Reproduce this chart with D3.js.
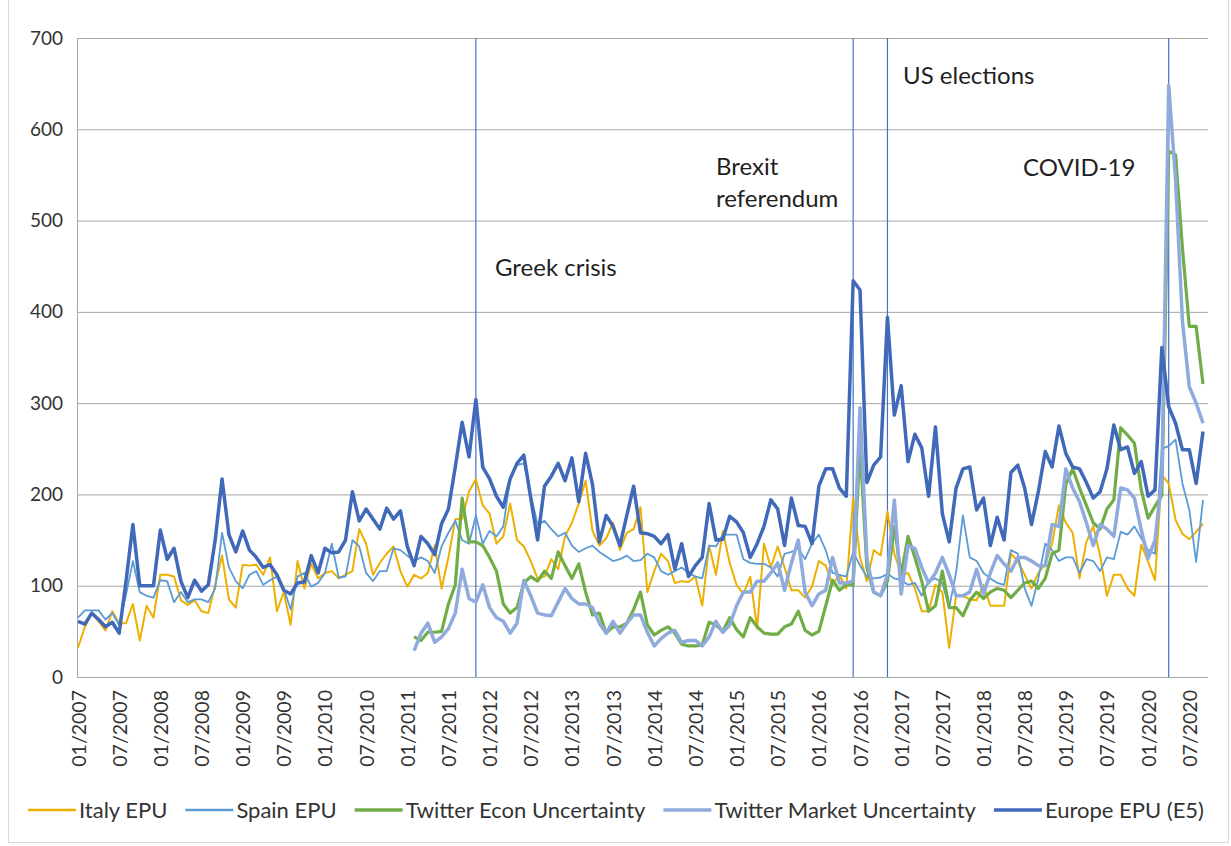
<!DOCTYPE html>
<html>
<head>
<meta charset="utf-8">
<script src="https://cdn.jsdelivr.net/npm/d3@7"></script>
<style>
body{margin:0;background:#fff;}
svg{font-family:Lato,"Open Sans",sans-serif;}
</style>
</head>
<body>
<svg id="chart" width="1231" height="846"></svg>
<script>
// monthly categories 01/2007 .. 09/2020
const months=[];
for(let yr=2007;yr<=2020;yr++){
  for(let m=1;m<=12;m++){
    if(yr==2020 && m>9) break;
    months.push((m<10?'0':'')+m+'/'+yr);
  }
}
const tickMonths=months.filter(m=>m.startsWith('01/')||m.startsWith('07/'));
const yTicks=[0,100,200,300,400,500,600,700];

const italy=[32,55,70,61,51,72,59,59,80,40,78,65,
 112,112,110,84,79,84,72,70,101,133,85,76,
 123,122,123,112,131,72,93,57,127,97,124,108,
 114,116,108,112,116,162,146,112,125,135,143,116,
 99,112,108,114,144,97,131,173,173,203,217,188,
 179,146,154,190,150,143,127,108,110,129,118,154,
 169,190,215,160,144,152,169,139,158,162,186,93,
 116,135,127,103,105,104,110,78,144,112,160,125,
 101,91,110,53,146,120,143,120,95,95,87,99,
 127,122,101,112,97,196,131,105,139,133,181,135,
 112,114,97,72,72,101,93,32,89,89,85,84,
 101,78,78,78,135,127,112,97,114,124,146,188,
 169,158,108,148,165,133,89,112,112,97,89,145,
 126,106,221,212,172,157,151,159,168];

const spain=[65,73,73,73,63,70,57,90,127,93,89,87,
 106,105,82,93,82,85,85,82,97,158,120,105,
 97,112,116,101,106,110,97,74,110,114,99,103,
 114,146,109,110,150,143,114,105,116,116,141,139,
 133,127,131,127,114,143,158,171,150,146,177,146,
 160,154,165,217,232,234,200,167,171,162,154,158,
 144,137,141,144,137,132,127,129,133,127,128,135,
 131,116,112,116,120,114,110,108,144,143,156,156,
 156,129,125,124,124,120,110,135,137,141,129,146,
 156,139,114,112,110,137,122,110,108,109,113,108,
 106,101,103,89,105,108,103,76,114,177,131,127,
 114,108,103,101,139,135,97,78,108,146,139,127,
 131,131,114,129,127,116,131,129,159,156,165,152,
 139,135,250,253,260,212,183,126,194];

// twitter indices start 02/2011
const twitterEcon=[null,null,null,null,null,null,null,null,null,null,null,null,
 null,null,null,null,null,null,null,null,null,null,null,null,
 null,null,null,null,null,null,null,null,null,null,null,null,
 null,null,null,null,null,null,null,null,null,null,null,null,
 null,44,40,49,49,50,80,101,196,148,148,144,
 131,116,80,70,76,103,110,105,116,108,137,122,
 108,124,93,68,70,48,55,55,59,74,93,57,
 46,51,55,48,36,34,34,35,60,57,50,65,
 52,44,65,55,48,47,47,55,58,72,51,46,
 50,78,106,95,101,101,253,120,93,89,105,165,
 112,154,131,105,72,78,116,76,76,67,84,93,
 86,93,97,95,87,95,103,105,97,108,135,139,
 211,228,207,188,169,162,184,194,273,265,256,205,
 174,187,199,576,572,470,384,384,321];

const twitterMarket=[null,null,null,null,null,null,null,null,null,null,null,null,
 null,null,null,null,null,null,null,null,null,null,null,null,
 null,null,null,null,null,null,null,null,null,null,null,null,
 null,null,null,null,null,null,null,null,null,null,null,null,
 null,29,48,59,38,44,53,70,118,86,82,101,
 76,65,61,48,59,106,89,70,68,67,82,97,
 86,80,80,76,59,48,61,48,59,68,68,49,
 34,42,48,51,38,40,40,34,44,61,49,57,
 78,93,93,105,105,114,125,95,125,150,93,78,
 91,95,131,103,103,105,295,130,93,89,112,194,
 91,144,141,120,103,114,131,112,89,89,93,118,
 91,114,133,124,116,131,131,127,122,122,167,165,
 228,207,192,169,144,167,162,154,207,205,196,161,
 130,150,216,648,545,390,318,300,278];

const europe=[61,58,70,63,55,60,48,105,167,100,100,100,
 161,129,141,105,87,106,94,101,150,217,156,137,
 160,139,131,120,123,112,95,91,103,104,133,114,
 141,136,137,150,203,171,184,173,162,185,173,182,
 143,122,154,146,134,168,184,230,279,241,304,230,
 217,198,186,217,234,243,196,150,209,220,234,215,
 240,192,245,211,148,177,165,144,177,209,158,157,
 154,146,156,118,146,110,122,131,190,150,151,176,
 170,158,131,146,165,194,184,144,196,166,165,146,
 209,228,228,207,198,434,424,213,232,241,394,287,
 319,236,266,251,198,274,179,148,207,228,230,183,
 196,144,175,150,224,232,207,167,203,247,230,275,
 245,230,228,213,196,203,228,276,249,252,223,236,
 198,205,361,296,278,249,249,212,269];

const eventMonths=['11/2011','06/2016','11/2016','04/2020'];

const series=[
  {name:'Italy EPU',values:italy,color:'#EDB000',width:2},
  {name:'Spain EPU',values:spain,color:'#5B9BD5',width:1.8},
  {name:'Twitter Econ Uncertainty',values:twitterEcon,color:'#70AD47',width:3.2},
  {name:'Twitter Market Uncertainty',values:twitterMarket,color:'#8FAADC',width:3.5},
  {name:'Europe EPU (E5)',values:europe,color:'#4169B9',width:3.5}
];

const svg=d3.select('#chart');
const plotLeft=77,plotRight=1208,plotTop=38,plotBottom=677;

// chart border
svg.append('rect').attr('x',8.5).attr('y',-2).attr('width',1220).attr('height',844.5)
  .attr('fill','none').attr('stroke','#d9d9d9');

const x=d3.scalePoint().domain(months).range([78,1203]);
const y=d3.scaleLinear().domain([0,700]).range([plotBottom,plotTop]);

// y axis + gridlines
const yAxis=svg.append('g').attr('transform','translate('+plotLeft+',0)')
  .call(d3.axisLeft(y).tickValues(yTicks).tickSize(-(plotRight-plotLeft)).tickSizeOuter(0).tickPadding(14));
yAxis.select('.domain').attr('stroke','#a6a6a6');
yAxis.selectAll('.tick line').attr('stroke','#a6a6a6');
yAxis.selectAll('.tick text').attr('font-size',19).attr('fill','#333').attr('font-family','Lato');

// x axis, rotated labels
const xAxis=svg.append('g').attr('transform','translate(0,'+plotBottom+')')
  .call(d3.axisBottom(x).tickValues(tickMonths).tickSize(0));
xAxis.select('.domain').remove();
xAxis.selectAll('.tick text')
  .attr('transform','rotate(-90)')
  .attr('text-anchor','end')
  .attr('x',-13).attr('y',0).attr('dy','0.36em')
  .attr('font-size',19.5).attr('fill','#333').attr('font-family','Lato');

// event lines
svg.selectAll('.event').data(eventMonths).enter().append('line')
  .attr('class','event')
  .attr('x1',d=>x(d)).attr('x2',d=>x(d))
  .attr('y1',plotTop).attr('y2',plotBottom)
  .attr('stroke','#4472C4').attr('stroke-width',1.2);

// series lines
const line=d3.line()
  .defined(d=>d!=null)
  .x((d,i)=>x(months[i]))
  .y(d=>y(d));

series.forEach(s=>{
  svg.append('path')
    .attr('d',line(s.values))
    .attr('fill','none')
    .attr('stroke',s.color)
    .attr('stroke-width',s.width)
    .attr('stroke-linejoin','round');
});

// annotations
const notes=[
  {t:'Greek crisis',x:495,y:276},
  {t:'Brexit',x:716,y:175},
  {t:'referendum',x:716,y:207},
  {t:'US elections',x:903,y:84},
  {t:'COVID-19',x:1023,y:176}
];
svg.selectAll('.note').data(notes).enter().append('text')
  .attr('x',d=>d.x).attr('y',d=>d.y)
  .attr('font-size',24).attr('fill','#1f1f1f')
  .text(d=>d.t);

// legend, centred under the chart
const lg=svg.append('g');
let items=series.map(s=>{
  const g=lg.append('g');
  g.append('line').attr('x1',0).attr('x2',48).attr('y1',0).attr('y2',0)
    .attr('stroke',s.color).attr('stroke-width',s.width<3?2.5:3.5);
  const t=g.append('text').attr('x',51).attr('y',0).attr('dy','0.35em')
    .attr('font-size',22).attr('fill','#333').text(s.name);
  return {g:g,w:51+t.node().getComputedTextLength()};
});
const gap=18;
const total=d3.sum(items,d=>d.w)+gap*(items.length-1);
let cx=616-total/2;
items.forEach(it=>{
  it.g.attr('transform','translate('+cx+',810)');
  cx+=it.w+gap;
});
</script>
</body>
</html>
